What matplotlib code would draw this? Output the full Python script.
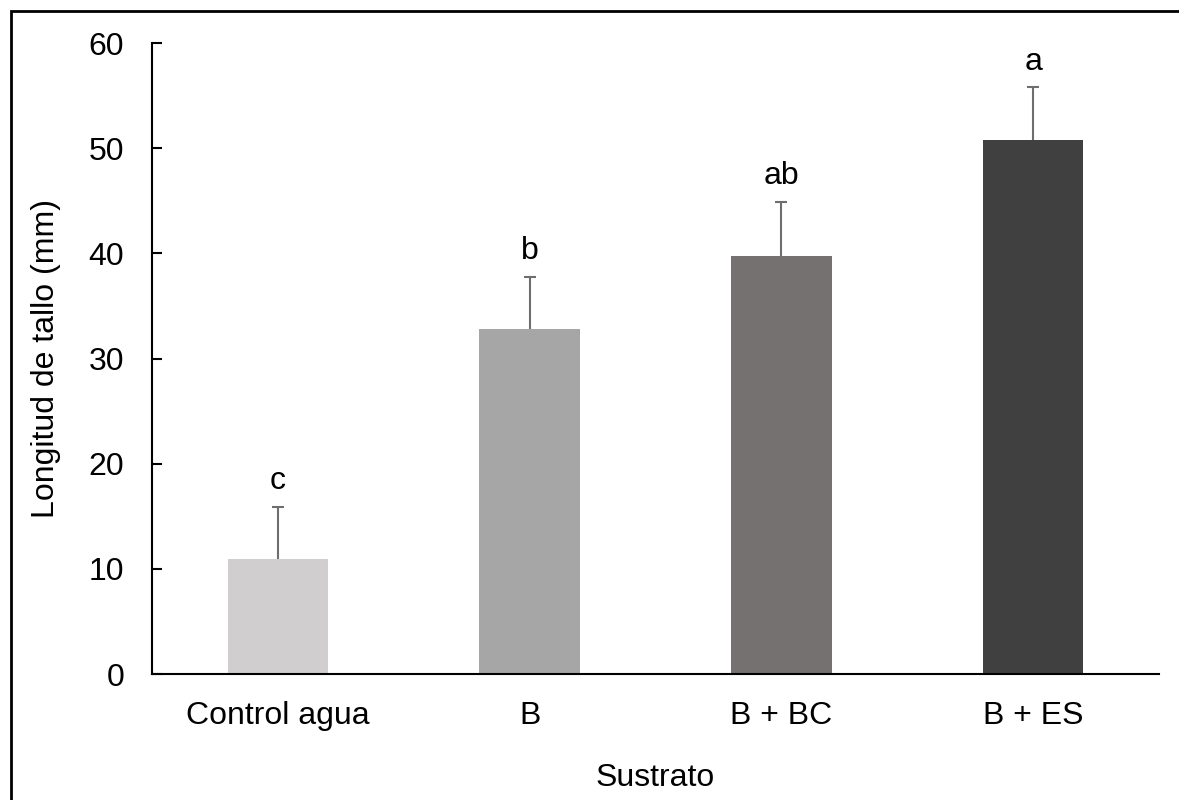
import matplotlib.pyplot as plt
from matplotlib.patches import Rectangle

plt.rcParams['font.family'] = ['Liberation Sans', 'DejaVu Sans']

# data
sustratos = ['Control agua', 'B', 'B + BC', 'B + ES']
longitud = [10.9, 32.8, 39.8, 50.8]
error = [5.0, 5.0, 5.1, 5.0]
letras = ['c', 'b', 'ab', 'a']
colores = ['#D0CECF', '#A6A6A6', '#757170', '#404040']

fs = 23

fig = plt.figure(figsize=(11.79, 8), dpi=100)
ax = fig.add_axes([0.129, 0.1575, 0.854, 0.7885])

x = range(len(sustratos))
bars = ax.bar(x, longitud, width=0.4, color=colores,
              yerr=[[0] * len(error), error],
              error_kw=dict(ecolor='#6E6E6E', elinewidth=1.5, capsize=4.3, capthick=1.5))

# only keep the upper caps
for cap in bars.errorbar.lines[1]:
    if list(cap.get_ydata()) == longitud:
        cap.set_visible(False)

# letters of significance above error bars
for i, (v, e, t) in enumerate(zip(longitud, error, letras)):
    ax.annotate(t, xy=(i, v + e), xytext=(0, 12.6), textcoords='offset points',
                ha='center', va='baseline', fontsize=fs)

ax.set_xlim(-0.5, 3.5)
ax.set_ylim(0, 60)
ax.set_yticks(range(0, 61, 10))
ax.set_xticks(list(x))
ax.set_xticklabels(sustratos)
ax.tick_params(axis='y', direction='in', length=7, width=1.5, labelsize=fs, pad=20)
ax.tick_params(axis='x', length=0, labelsize=fs, pad=19.5)

for s in ['top', 'right']:
    ax.spines[s].set_visible(False)
ax.spines['left'].set_linewidth(1.5)
ax.spines['bottom'].set_linewidth(1.5)

ax.set_xlabel('Sustrato', fontsize=fs)
ax.set_ylabel('Longitud de tallo (mm)', fontsize=fs)
ax.xaxis.set_label_coords(0.5, -0.141)
ax.yaxis.set_label_coords(-0.090, 0.5)

# outer frame (clipped at right and bottom in the reference)
fig.patches.append(Rectangle((11 / 1179, -0.1), 1.2, (800 - 11) / 800 + 0.1,
                             transform=fig.transFigure, fill=False,
                             edgecolor='black', linewidth=2))

plt.savefig('out.png', dpi=100)
